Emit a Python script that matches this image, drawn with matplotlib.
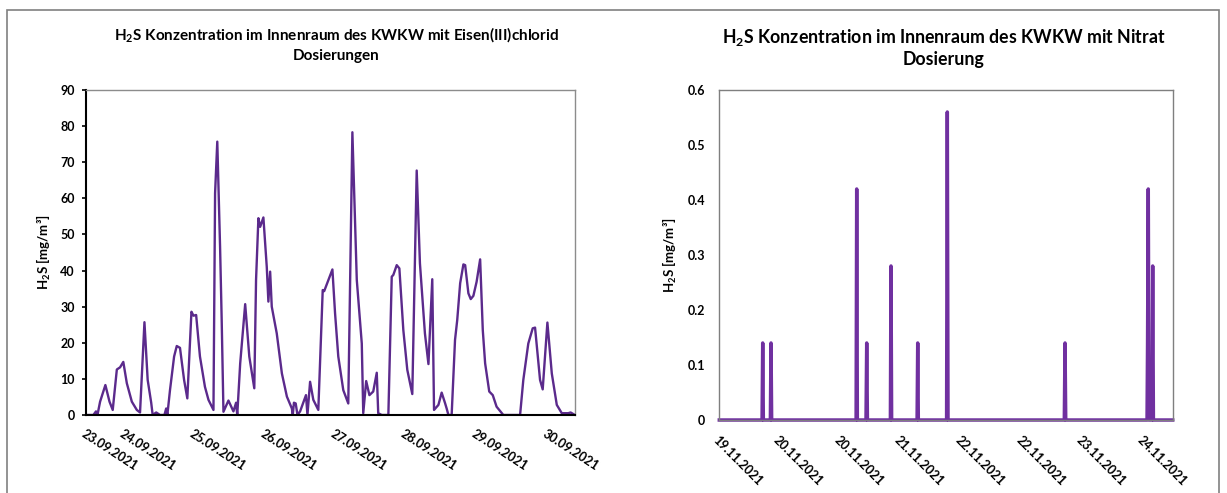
import matplotlib
matplotlib.use("Agg")
import matplotlib.pyplot as plt
from matplotlib.patches import Rectangle

plt.rcParams['font.family'] = ['Lato', 'DejaVu Sans']
plt.rcParams['font.weight'] = 'bold'
plt.rcParams['mathtext.fontset'] = 'custom'
plt.rcParams['mathtext.rm'] = 'Lato:bold'
plt.rcParams['mathtext.bf'] = 'Lato:bold'
plt.rcParams['mathtext.it'] = 'Lato:bold'

# ---------------- data: Eisen(III)chlorid (hours since 23.09.2021 00:00) -----
fe_hours = [11.2, 13.7, 14.6, 15.1, 16.0, 17.8, 19.2, 20.3, 21.7, 22.8, 23.9,
            25.1, 26.8, 28.5, 29.6, 31.1, 32.2, 33.4, 33.9, 35.1, 36.4, 37.9,
            38.5, 38.9, 39.8, 41.2, 42.1, 43.2, 44.6, 45.7, 47.1, 47.8, 48.7,
            50.0, 51.7, 52.9, 54.6, 55.15, 55.9, 56.85, 57.4, 58.0, 59.7, 61.4,
            62.3, 62.7, 63.7, 65.4, 66.8, 68.5, 69.1, 69.9, 70.5, 71.6, 72.75,
            73.3, 73.9, 74.45, 76.15, 77.9, 79.6, 81.3, 81.6, 82.0, 82.6, 83.2,
            84.1, 86.1, 86.6, 87.5, 88.6, 90.3, 91.8, 92.3, 95.1, 96.0, 97.1,
            98.8, 100.5, 101.9, 103.4, 105.1, 105.6, 106.6, 107.7, 109.0, 110.2,
            110.7, 111.9, 114.15, 115.3, 115.85, 117.0, 117.9, 119.25, 120.6,
            122.3, 123.8, 124.9, 126.6, 127.8, 129.1, 129.7, 131.2, 132.3, 133.45,
            134.0, 134.6, 135.7, 136.85, 137.6, 138.6, 139.7, 140.3, 141.4, 142.2,
            143.1, 144.2, 145.4, 146.3, 147.1, 148.5, 149.7, 151.0, 153.3, 159.0,
            160.1, 161.8, 163.3, 164.1, 165.8, 166.7, 168.3, 169.8, 171.5, 173.2,
            175.4, 176.2, 177.7]
fe_values = [0, 0, 1.0, 0, 3.7, 8.3, 3.7, 1.4, 12.6, 13.2, 14.7,
             8.8, 3.7, 1.4, 0.7, 25.7, 9.7, 3.4, 0, 0.7, 0, 0,
             1.8, 0, 6.9, 16.2, 19.1, 18.6, 9.7, 4.6, 28.6, 27.5, 27.7,
             16.2, 7.8, 4.2, 1.4, 61.4, 75.7, 46.6, 26.3, 0.9, 4.0, 1.0,
             3.4, 0, 14.3, 30.7, 16.2, 7.4, 37.4, 54.5, 52.1, 54.7, 41.0,
             31.4, 39.7, 30.0, 22.6, 11.5, 5.1, 1.8, 0, 3.4, 3.2, 0,
             1.0, 5.5, 0, 9.2, 4.2, 1.4, 34.6, 34.3, 40.3, 28.2, 16.2,
             6.9, 3.2, 78.3, 37.4, 19.8, 0.5, 9.4, 5.5, 6.5, 11.7,
             0.5, 0, 0, 38.3, 38.8, 41.5, 40.6, 23.5, 12.5,
             5.8, 67.7, 42.0, 22.6, 14.1, 37.6, 1.4, 2.8, 6.2, 3.3,
             1.8, 0, 0, 20.8, 26.3, 36.5, 41.7, 41.5, 33.7, 32.1,
             33.0, 36.9, 43.1, 23.5, 14.3, 6.5, 5.5, 2.3, 0, 0,
             9.7, 19.8, 24.0, 24.2, 9.7, 7.1, 25.6, 11.5, 2.8, 0.5,
             0.5, 0.7, 0]
fe_tick_hours = [11.2, 24, 48, 72, 96, 120, 144, 168]
fe_tick_labels = ['23.09.2021', '24.09.2021', '25.09.2021', '26.09.2021',
                  '27.09.2021', '28.09.2021', '29.09.2021', '30.09.2021']
fe_yticks = [0, 10, 20, 30, 40, 50, 60, 70, 80, 90]

# ---------------- data: Nitrat (hours since 19.11.2021 00:00) ----------------
no3_hours = [8.0, 20.1, 20.28, 20.46, 22.45, 22.63, 22.81, 46.7, 46.87, 47.05,
             49.5, 49.7, 49.9, 56.4, 56.57, 56.75, 63.95, 64.13, 64.3,
             72.3, 72.5, 72.7, 105.6, 105.8, 106.0, 129.0, 129.15, 129.35,
             129.55, 130.4, 130.6, 130.8, 136.26]
no3_values = [0, 0, 0.14, 0, 0, 0.14, 0, 0, 0.42, 0,
              0, 0.14, 0, 0, 0.28, 0, 0, 0.14, 0,
              0, 0.56, 0, 0, 0.14, 0, 0, 0.14, 0.42,
              0, 0, 0.28, 0, 0]
no3_tick_hours = [8.0, 25.14, 42.29, 59.43, 76.57, 93.71, 110.86, 128.0]
no3_tick_labels = ['19.11.2021', '20.11.2021', '20.11.2021', '21.11.2021',
                   '22.11.2021', '22.11.2021', '23.11.2021', '24.11.2021']
no3_yticks = [0, 0.1, 0.2, 0.3, 0.4, 0.5, 0.6]
no3_ytick_labels = ['0', '0.1', '0.2', '0.3', '0.4', '0.5', '0.6']

W, H = 1227, 493
fig = plt.figure(figsize=(W / 100, H / 100), dpi=100)

# outer frame
fig.patches.append(Rectangle((7 / W, -0.1), (1219 - 7) / W, 1.1 - 10 / H,
                             transform=fig.transFigure, fill=False,
                             edgecolor='#808080', linewidth=1.2))

def px_axes(l, r, t, b):
    return fig.add_axes([l / W, 1 - b / H, (r - l) / W, (b - t) / H])

ylab = 'H$_{2}$S [mg/m³]'

# ---------------- left chart ----------------
ax1 = px_axes(86, 575, 90, 415)
ax1.plot(fe_hours, fe_values, color='#5b2a8c', linewidth=1.7, solid_joinstyle='round')
ax1.set_xlim(fe_hours[0], fe_hours[-1])
ax1.set_ylim(0, 90)
ax1.set_yticks(fe_yticks)
ax1.set_xticks(fe_tick_hours, fe_tick_labels)
for s in ['top', 'right']:
    ax1.spines[s].set_color('#8c8c8c')
    ax1.spines[s].set_linewidth(1.0)
for s in ['left', 'bottom']:
    ax1.spines[s].set_color('black')
    ax1.spines[s].set_linewidth(1.5)
ax1.tick_params(axis='y', direction='out', length=3, width=1.2, color='black',
                pad=5, labelsize=9)
ax1.tick_params(axis='x', length=0, pad=9, labelsize=9)
for lab in ax1.get_xticklabels():
    lab.set_rotation(-33)
    lab.set_ha('left')
    lab.set_va('top')
    lab.set_rotation_mode('anchor')
ax1.set_ylabel(ylab, fontsize=9.5, fontweight='bold', labelpad=5)
fig.text(336 / W, 1 - 35 / H, 'H$_{2}$S Konzentration im Innenraum des KWKW mit Eisen(III)chlorid',
         ha='center', va='center', fontsize=11, fontweight='bold')
fig.text(336 / W, 1 - 56 / H, 'Dosierungen', ha='center', va='center',
         fontsize=11, fontweight='bold')

# ---------------- right chart ----------------
ax2 = px_axes(719.3, 1172.7, 90, 420)
ax2.plot(no3_hours, no3_values, color='#7030a0', linewidth=2.5, clip_on=False)
ax2.set_xlim(no3_hours[0], no3_hours[-1])
ax2.set_ylim(0, 0.6)
ax2.set_yticks(no3_yticks, no3_ytick_labels)
ax2.set_xticks(no3_tick_hours, no3_tick_labels)
for s in ax2.spines.values():
    s.set_color('#7f7f7f')
    s.set_linewidth(1.0)
ax2.tick_params(axis='y', length=0, pad=10, labelsize=9)
ax2.tick_params(axis='x', length=0, pad=10, labelsize=9)
for lab in ax2.get_xticklabels():
    lab.set_rotation(-45)
    lab.set_ha('left')
    lab.set_va('top')
    lab.set_rotation_mode('anchor')
ax2.set_ylabel(ylab, fontsize=9.5, fontweight='bold', labelpad=6)
fig.text(944 / W, 1 - 37 / H, 'H$_{2}$S Konzentration im Innenraum des KWKW mit Nitrat',
         ha='center', va='center', fontsize=12.8, fontweight='bold')
fig.text(944 / W, 1 - 60 / H, 'Dosierung', ha='center', va='center',
         fontsize=12.8, fontweight='bold')

fig.savefig('out.png', dpi=100)
